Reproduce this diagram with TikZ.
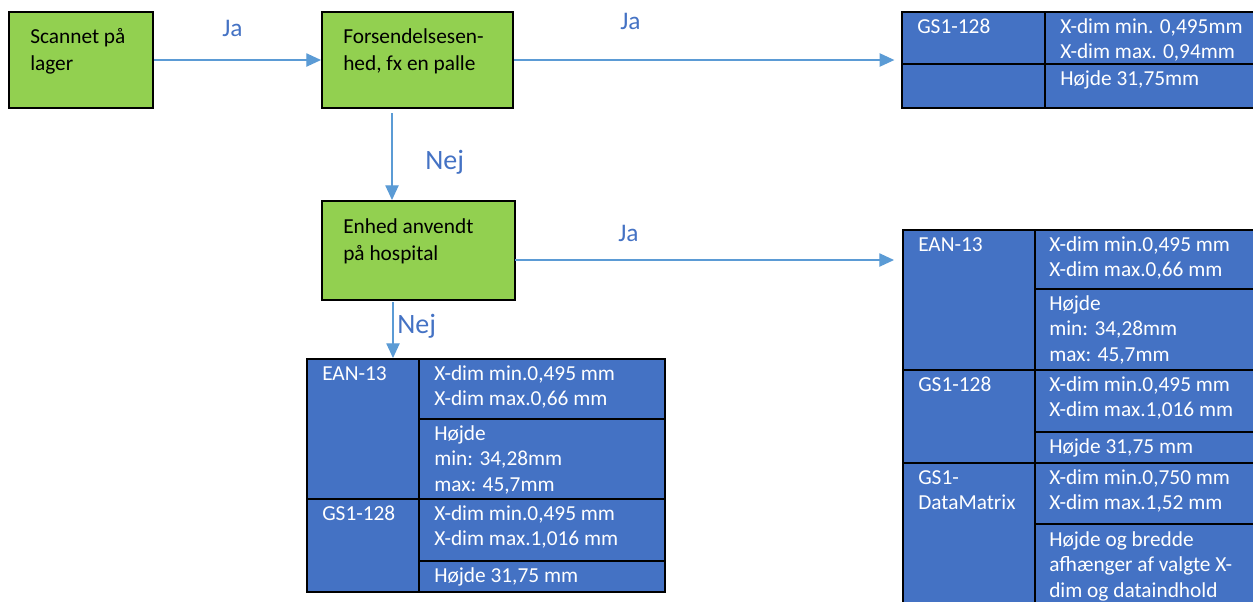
\documentclass[tikz,border=0pt]{standalone}
\usepackage{fontspec}
\setmainfont{Carlito}
\usetikzlibrary{arrows.meta,positioning,fit}
\definecolor{boxgreen}{HTML}{92D050}
\definecolor{cellblue}{HTML}{4472C4}
\definecolor{linkblue}{HTML}{5B9BD5}
\definecolor{labelblue}{HTML}{4472C4}
\newcommand{\toplines}[1]{\begin{tabular}[t]{@{}l@{}}#1\end{tabular}}

\begin{document}
\begin{tikzpicture}[x=0.75pt,y=-0.75pt,
	greenbox/.style={draw=black,line width=1.5pt,fill=boxgreen,inner sep=0pt},
	tabbox/.style={draw=black,line width=1.5pt,fill=cellblue,inner sep=0pt},
	tline/.style={draw=black,line width=1.5pt},
	boxtext/.style={inner sep=0pt,anchor=base west,font=\fontsize{16}{20.5}\selectfont},
	celltext/.style={inner sep=0pt,anchor=base west,text=white,font=\fontsize{16}{19.4}\selectfont},
	answer/.style={inner sep=0pt,anchor=base west,text=labelblue},
	link/.style={draw=linkblue,line width=0.9pt,-{Triangle[length=11pt,width=10pt]}}]
	\useasboundingbox (0,0) rectangle (1253,601);

	% decision boxes
	\node[greenbox,fit={(9,12) (153,108)}] (scan) {};
	\node[greenbox,fit={(322,12) (513,108)}] (fors) {};
	\node[greenbox,fit={(322,201) (515,300)}] (hosp) {};
	\node[boxtext] (scan-t) at (30,43) {\toplines{Scannet på\\lager}};
	\node[boxtext] (fors-t) at (343,43) {\toplines{Forsendelsesen-\\hed, fx en palle}};
	\node[boxtext] (hosp-t) at (343,233) {\toplines{Enhed anvendt\\på hospital}};

	% table: forsendelsesenhed
	\node[tabbox,fit={(902,12) (1262,108)}] (tabA) {};
	\draw[tline] (1045,12) -- (1045,108) (902,64) -- (1262,64);
	\node[celltext] (tabA-1) at (917,33) {GS1-128};
	\node[celltext] (tabA-2) at (1060,33) {\toplines{X-dim min. 0,495mm\\X-dim max. 0,94mm}};
	\node[celltext] (tabA-3) at (1060,85) {Højde 31,75mm};

	% table: hospital
	\node[tabbox,fit={(903,230) (1262,625)}] (tabB) {};
	\draw[tline] (1035,230) -- (1035,625)
		(1035,289) -- (1262,289) (903,370) -- (1262,370)
		(1035,432) -- (1262,432) (903,463) -- (1262,463)
		(1035,524) -- (1262,524);
	\node[celltext] (tabB-1) at (918,251) {EAN-13};
	\node[celltext] (tabB-2) at (1049,251) {\toplines{X-dim min.0,495 mm\\X-dim max.0,66 mm}};
	\node[celltext] (tabB-3) at (1049,310) {\toplines{Højde\\min: 34,28mm\\max: 45,7mm}};
	\node[celltext] (tabB-4) at (918,391) {GS1-128};
	\node[celltext] (tabB-5) at (1049,391) {\toplines{X-dim min.0,495 mm\\X-dim max.1,016 mm}};
	\node[celltext] (tabB-6) at (1049,453) {Højde 31,75 mm};
	\node[celltext] (tabB-7) at (918,484) {\toplines{GS1-\\DataMatrix}};
	\node[celltext] (tabB-8) at (1049,484) {\toplines{X-dim min.0,750 mm\\X-dim max.1,52 mm}};
	\node[celltext] (tabB-9) at (1049,546) {\toplines{Højde og bredde\\afhænger af valgte X-\\dim og dataindhold}};

	% table: ikke hospital
	\node[tabbox,fit={(307,359) (665,592)}] (tabC) {};
	\draw[tline] (419,359) -- (419,592)
		(419,419) -- (665,419) (307,499) -- (665,499)
		(419,561) -- (665,561);
	\node[celltext] (tabC-1) at (322,380) {EAN-13};
	\node[celltext] (tabC-2) at (434,380) {\toplines{X-dim min.0,495 mm\\X-dim max.0,66 mm}};
	\node[celltext] (tabC-3) at (434,440) {\toplines{Højde\\min: 34,28mm\\max: 45,7mm}};
	\node[celltext] (tabC-4) at (322,520) {GS1-128};
	\node[celltext] (tabC-5) at (434,520) {\toplines{X-dim min.0,495 mm\\X-dim max.1,016 mm}};
	\node[celltext] (tabC-6) at (434,582) {Højde 31,75 mm};

	% arrows
	\coordinate (drop1) at (392,113);
	\coordinate (drop2) at (393,302);
	\coordinate (side2) at (515,260);
	\draw[link] (scan.east) -- (fors.west);
	\draw[link,shorten >=5pt] (fors.east) -- (tabA.west);
	\draw[link] (drop1) -- (drop1 |- hosp.north);
	\draw[link,shorten >=6pt] (side2) -- (side2 -| tabB.west);
	\draw[link] (drop2) -- (drop2 |- tabC.north);

	% answers
	\node[answer,font=\fontsize{19}{22}\selectfont] (ja1) at (222,36) {Ja};
	\node[answer,font=\fontsize{19}{22}\selectfont] (ja2) at (620,29) {Ja};
	\node[answer,font=\fontsize{21}{24}\selectfont] (nej1) at (425,169) {Nej};
	\node[answer,font=\fontsize{19}{22}\selectfont] (ja3) at (618,241) {Ja};
	\node[answer,font=\fontsize{21}{24}\selectfont] (nej2) at (397,333) {Nej};
\end{tikzpicture}
\end{document}
